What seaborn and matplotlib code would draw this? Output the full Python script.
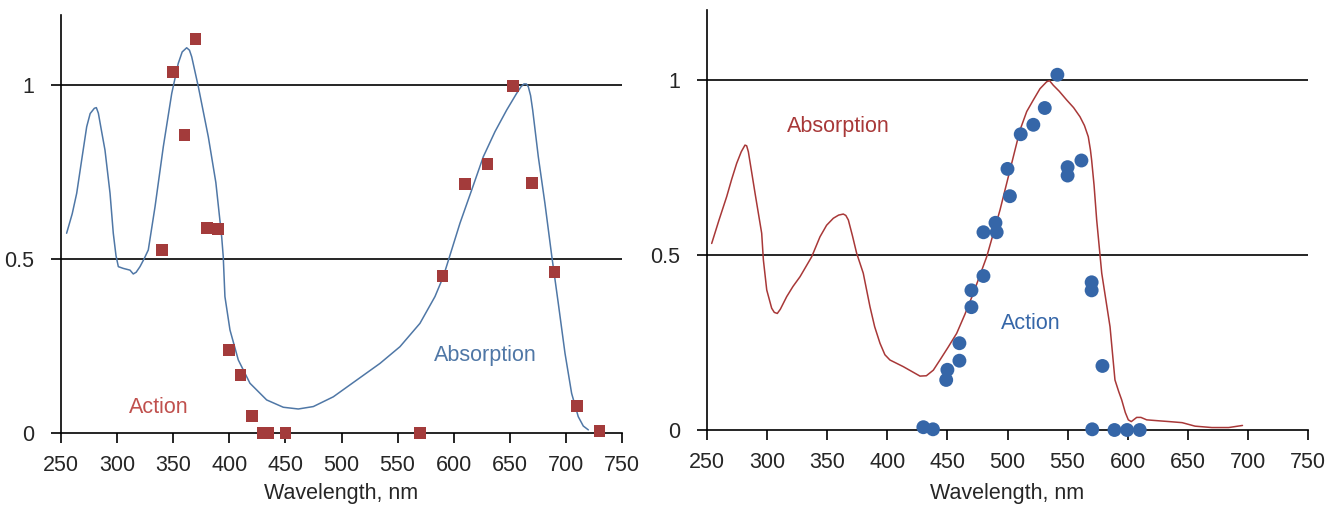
import matplotlib
matplotlib.use('Agg')
import matplotlib.pyplot as plt
import seaborn as sns
import pandas as pd

# left panel: absorption curve (blue line) and action points (red squares)
left_abs_nm = [255, 260, 264, 268.4, 272.9, 276, 279.7, 281.5, 283.3, 286, 289.2, 293.7, 296.6,
               299, 301.1, 305.5, 311.5, 314.4, 317, 320.4, 324, 327.8, 333.8, 341.2, 348.7,
               354.5, 358, 362, 364.5, 366.5, 372.4, 381.3, 388, 393.2, 394.6, 396.1, 400.6,
               408, 418.4, 433.3, 448.1, 461.5, 474.9, 492.7, 513.5, 534.3, 552.1, 569.9, 583.3,
               590.7, 596.7, 605.6, 616, 626.4, 636.8, 647.2, 656.1, 660, 662.6, 664.8, 666.5,
               668.5, 670.4, 675.4, 681.3, 687.3, 693.2, 699.2, 705.1, 711, 715.5, 720]
left_abs_val = [0.574, 0.63, 0.689, 0.784, 0.88, 0.918, 0.933, 0.935, 0.919, 0.87, 0.813, 0.689,
                0.574, 0.51, 0.478, 0.473, 0.468, 0.457, 0.462, 0.478, 0.5, 0.526, 0.65, 0.823,
                0.976, 1.062, 1.095, 1.107, 1.1, 1.081, 0.995, 0.851, 0.72, 0.564, 0.507, 0.392,
                0.296, 0.21, 0.143, 0.095, 0.074, 0.069, 0.076, 0.104, 0.152, 0.2, 0.248, 0.315,
                0.392, 0.449, 0.511, 0.603, 0.698, 0.794, 0.866, 0.928, 0.976, 0.995, 1.003,
                1.003, 0.995, 0.97, 0.928, 0.794, 0.66, 0.511, 0.373, 0.229, 0.114, 0.047, 0.02,
                0.009]
left_act_nm = [340, 350, 360, 370, 380, 390, 400, 410, 420, 430, 435, 450, 570, 590, 610, 630,
               653, 670, 690, 710, 730]
left_act_val = [0.525, 1.037, 0.856, 1.132, 0.589, 0.586, 0.238, 0.167, 0.049, 0.0, 0.0, 0.0, 0.0,
                0.451, 0.716, 0.773, 0.997, 0.718, 0.463, 0.078, 0.006]

# right panel: absorption curve (red line) and action points (blue dots)
right_abs_nm = [253.9, 260, 266.4, 270.5, 274.7, 278.5, 281.6, 283, 284.4, 287, 290, 295.5, 296.9,
                299.7, 303.8, 306, 308.5, 311, 316.3, 321.5, 327.4, 332, 337.1, 344, 349.5, 355.1,
                359.5, 363.4, 365.5, 367.6, 371, 374.5, 380, 385.6, 389.5, 393.9, 398, 402.2,
                413.3, 420, 427.2, 432.5, 438.3, 443.8, 450.5, 457.7, 464.5, 471.5, 482.7, 493.8,
                502.1, 510.4, 516, 521.5, 527, 532.6, 535, 538.1, 543, 549.2, 555, 560.3, 564,
                567.2, 569, 570, 572, 574.2, 578.4, 585.3, 589.4, 592.5, 595, 598, 600.5, 603,
                607.5, 611, 615.8, 626.9, 634.7, 645.3, 656, 670, 684, 695.5]
right_abs_val = [0.533, 0.6, 0.667, 0.716, 0.762, 0.795, 0.814, 0.812, 0.795, 0.74, 0.676, 0.562,
                 0.486, 0.4, 0.348, 0.336, 0.333, 0.345, 0.381, 0.41, 0.438, 0.465, 0.495, 0.552,
                 0.585, 0.605, 0.614, 0.617, 0.613, 0.6, 0.555, 0.505, 0.448, 0.352, 0.295,
                 0.248, 0.215, 0.2, 0.181, 0.168, 0.154, 0.155, 0.171, 0.2, 0.236, 0.276, 0.33,
                 0.39, 0.495, 0.629, 0.743, 0.857, 0.91, 0.943, 0.975, 0.995, 0.998, 0.985, 0.968,
                 0.943, 0.921, 0.895, 0.87, 0.838, 0.8, 0.771, 0.7, 0.6, 0.448, 0.295, 0.143,
                 0.11, 0.086, 0.05, 0.029, 0.024, 0.036, 0.036, 0.029, 0.026, 0.024, 0.021, 0.011,
                 0.007, 0.007, 0.013]
right_act_nm = [430, 438, 449, 450, 460, 460, 470, 470, 480, 480, 490, 491, 500, 502, 511, 521.5,
                531, 541.5, 550, 550, 561.5, 570, 570, 579, 570.5, 589, 599.5, 610]
right_act_val = [0.008, 0.002, 0.143, 0.172, 0.198, 0.248, 0.351, 0.399, 0.44, 0.565, 0.592,
                 0.565, 0.746, 0.668, 0.845, 0.872, 0.92, 1.015, 0.751, 0.727, 0.77, 0.422,
                 0.399, 0.183, 0.002, 0.0, 0.0, 0.0]

BLUE_LINE = '#4f77a6'
RED_MARK = '#a33b3b'
RED_LINE = '#a83838'
BLUE_MARK = '#3566a8'
FS = 15.5

sns.set_style('white')
plt.rcParams['font.family'] = ['Liberation Sans', 'DejaVu Sans']


def style_axis(ax, labelpad):
    ax.set_xlim(250, 750)
    ax.set_ylim(0, 1.2)
    ax.set_xticks(range(250, 751, 50))
    ax.set_yticks([0, 0.5, 1])
    ax.set_yticklabels(['0', '0.5', '1'])
    for y in (0.5, 1):
        ax.axhline(y, color='black', lw=1.2, zorder=1)
    sns.despine(ax=ax)
    for side in ('left', 'bottom'):
        ax.spines[side].set_color('black')
        ax.spines[side].set_linewidth(1.2)
    ax.tick_params(axis='both', direction='out', length=7, width=1.2, color='black',
                   labelsize=FS, bottom=True, left=True)
    ax.tick_params(axis='x', pad=9)
    ax.tick_params(axis='y', pad=12)
    ax.set_xlabel('Wavelength, nm', fontsize=FS, labelpad=labelpad)
    ax.set_ylabel('')
    ax.grid(False)


fig = plt.figure(figsize=(13.25, 5.09), dpi=100)
ax1 = fig.add_axes([61 / 1325, 1 - 433 / 509, 561 / 1325, 1.2 * 348 / 509])
ax2 = fig.add_axes([707 / 1325, 1 - 430 / 509, 601 / 1325, 1.2 * 350 / 509])

left_abs = pd.DataFrame({'nm': left_abs_nm, 'val': left_abs_val})
left_act = pd.DataFrame({'nm': left_act_nm, 'val': left_act_val})
right_abs = pd.DataFrame({'nm': right_abs_nm, 'val': right_abs_val})
right_act = pd.DataFrame({'nm': right_act_nm, 'val': right_act_val})

sns.lineplot(data=left_abs, x='nm', y='val', ax=ax1, color=BLUE_LINE, lw=1.1, zorder=3)
sns.scatterplot(data=left_act, x='nm', y='val', ax=ax1, marker='s', s=70, color=RED_MARK,
                edgecolor='none', zorder=4, clip_on=False)
style_axis(ax1, 5)
ax1.text(628, 0.224, 'Absorption', color=BLUE_LINE, fontsize=FS, ha='center', va='center')
ax1.text(337, 0.072, 'Action', color='#c0504d', fontsize=FS, ha='center', va='center')

sns.lineplot(data=right_abs, x='nm', y='val', ax=ax2, color=RED_LINE, lw=1.1, zorder=3)
sns.scatterplot(data=right_act, x='nm', y='val', ax=ax2, marker='o', s=100, color=BLUE_MARK,
                edgecolor='none', zorder=4, clip_on=False)
style_axis(ax2, 7)
ax2.text(359, 0.866, 'Absorption', color=RED_LINE, fontsize=FS, ha='center', va='center')
ax2.text(519, 0.303, 'Action', color=BLUE_MARK, fontsize=FS, ha='center', va='center')

fig.savefig('out.png', dpi=100)
